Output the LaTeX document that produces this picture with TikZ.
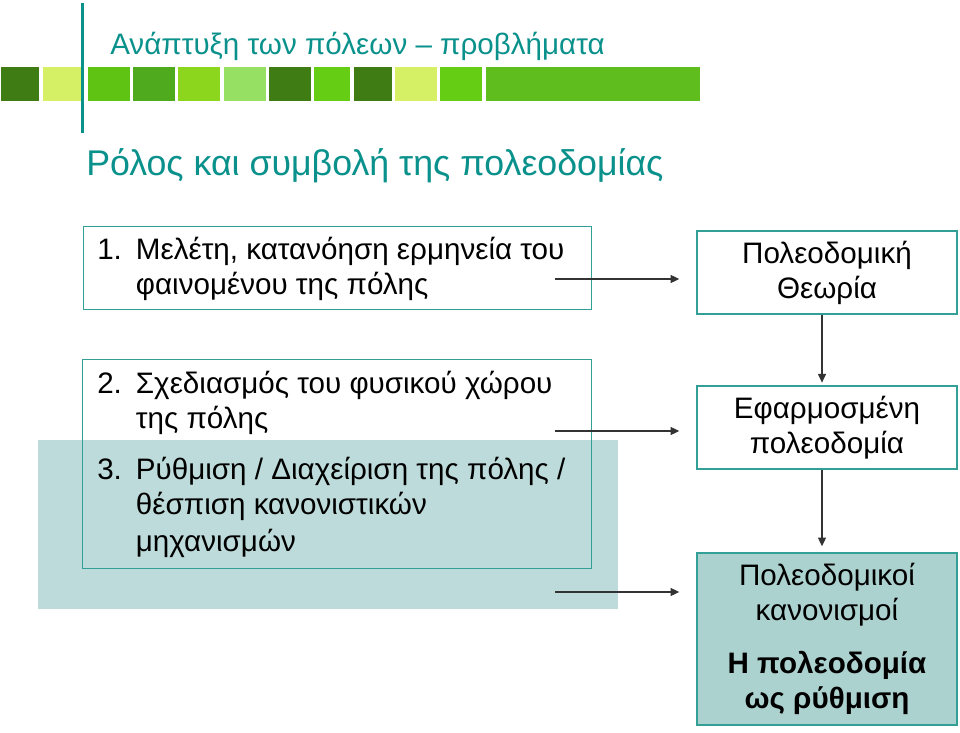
\documentclass[tikz,border=0pt]{standalone}
\usepackage{fontspec}
\setmainfont{Liberation Sans}
\usetikzlibrary{positioning,arrows.meta,calc}

\definecolor{titleteal}{RGB}{10,145,140}
\definecolor{boxteal}{RGB}{50,160,150}
\definecolor{shadeteal}{RGB}{188,219,218}
\definecolor{rulesfill}{RGB}{172,210,207}
\definecolor{gDark}{RGB}{63,125,20}
\definecolor{gPale}{RGB}{214,240,102}
\definecolor{gMid}{RGB}{95,195,20}
\definecolor{gDeep}{RGB}{80,170,30}
\definecolor{gLime}{RGB}{140,215,30}
\definecolor{gSoft}{RGB}{150,225,100}
\definecolor{gBright}{RGB}{100,205,20}
\definecolor{gBar}{RGB}{95,190,30}

\newcommand{\boxfont}{\fontsize{22.2}{26.25}\selectfont}

\begin{document}
\begin{tikzpicture}[x=0.75pt,y=-0.75pt,>={Triangle[length=6.5pt,width=6pt]},
  rbox/.style={draw=boxteal,line width=1.1pt,minimum width=195pt,minimum height=62.25pt,
    align=center,font=\boxfont,inner sep=0pt},
  lbox/.style={draw=boxteal,line width=1.1pt,anchor=north west,inner sep=0pt},
  itemtxt/.style={anchor=base west,inner sep=0pt,font=\boxfont},
  arr/.style={->,line width=0.8pt,black!80}]
\useasboundingbox (0,0) rectangle (960,732);
% ---- header: bar and squares ----
\foreach \xa/\xb/\col in {1/39/gDark, 43/81/gPale, 88/130/gMid, 133/175/gDeep,
  178/220/gLime, 224/266/gSoft, 269/311/gDark, 314/350/gBright, 354/392/gDark,
  395/437/gPale, 440/482/gBright, 486/700/gBar} {
  \fill[\col] (\xa,67) rectangle (\xb,101);}
\draw[titleteal,line width=2.3pt] (82.5,3) -- (82.5,133);
\node[anchor=base west,inner sep=0pt,text=titleteal,font=\fontsize{22.2}{26}\selectfont] (title) at (110,54) {Ανάπτυξη των πόλεων – προβλήματα};
\node[anchor=base west,inner sep=0pt,text=titleteal,font=\fontsize{26.8}{32}\selectfont] (subtitle) at (86,175) {Ρόλος και συμβολή της πολεοδομίας};
% ---- shaded band behind item 3 ----
\fill[shadeteal] (38,440) rectangle (618,609);
% ---- left boxes ----
\node[lbox,minimum width=381pt,minimum height=62.25pt] (study) at (83,226) {};
\node[lbox,minimum width=381.75pt,minimum height=156.75pt] (plan) at (82,359) {};
\node[itemtxt] (studytxt) at (97,259) {\begin{tabular}[t]{@{}p{29pt}@{}l@{}}
  1. & Μελέτη, κατανόηση ερμηνεία του\\
     & φαινομένου της πόλης\end{tabular}};
\node[itemtxt] (plantxt) at (97,393) {\begin{tabular}[t]{@{}p{29pt}@{}l@{}}
  2. & Σχεδιασμός του φυσικού χώρου\\
     & της πόλης\\[12.5pt]
  3. & Ρύθμιση / Διαχείριση της πόλης /\\
     & θέσπιση κανονιστικών\\[1.5pt]
     & μηχανισμών\end{tabular}};
% ---- right boxes ----
\node[rbox] (theory) at (827,272.5) {Πολεοδομική\\Θεωρία};
\node[rbox] (applied) at (827,427.5) {Εφαρμοσμένη\\πολεοδομία};
\node[rbox,fill=rulesfill,minimum height=129pt] (rules) at (827,639)
  {Πολεοδομικοί\\κανονισμοί\\[13pt]\textbf{Η πολεοδομία}\\\textbf{ως ρύθμιση}};
% ---- arrows ----
\coordinate (a1) at (555,279);
\coordinate (a2) at (555,431);
\coordinate (a3) at (555,592);
\draw[arr,shorten >=12.75pt] (a1) -- (a1 -| theory.west);
\draw[arr,shorten >=12.75pt] (a2) -- (a2 -| applied.west);
\draw[arr,shorten >=12.75pt] (a3) -- (a3 -| rules.west);
\draw[arr,shorten >=2pt] ([xshift=-3.75pt]theory.south) -- ([xshift=-3.75pt]applied.north);
\draw[arr,shorten >=4.5pt] ([xshift=-3.75pt]applied.south) -- ([xshift=-3.75pt]rules.north);
\end{tikzpicture}
\end{document}
